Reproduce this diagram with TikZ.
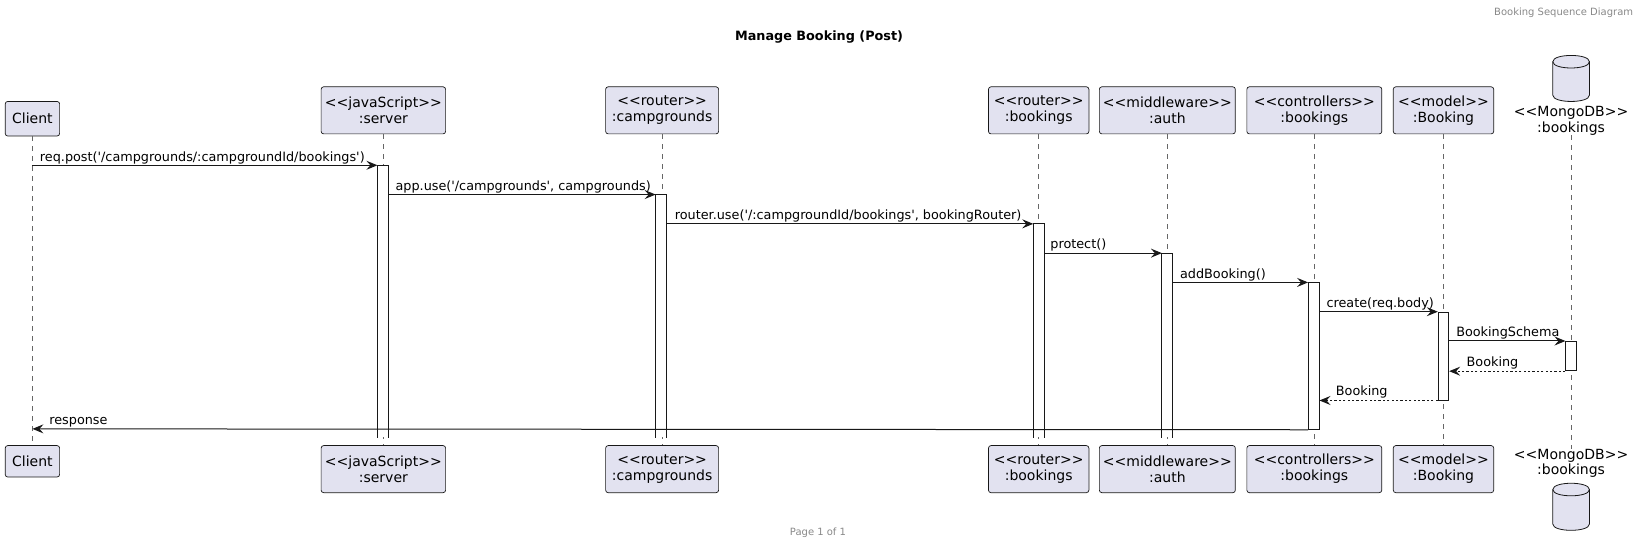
\documentclass[tikz,border=0pt]{standalone}
\usepackage{fontspec}
\setmainfont{DejaVu Sans}[Ligatures=TeXOff]
\usetikzlibrary{arrows.meta}
\definecolor{partfill}{HTML}{E2E2F0}
\definecolor{ink}{HTML}{181818}
\definecolor{lifegray}{HTML}{666666}
\definecolor{notegray}{HTML}{888888}
\newcommand\dbicon[3]{% centre x, top y, bottom y
  \filldraw[dbstyle] (#1-17.5,#2+6) .. controls (#1-17.5,#2-2) and (#1+17.5,#2-2) .. (#1+17.5,#2+6)
    -- (#1+17.5,#3-6) .. controls (#1+17.5,#3+2) and (#1-17.5,#3+2) .. (#1-17.5,#3-6) -- cycle;
  \draw[dbstyle] (#1-17.5,#2+6) .. controls (#1-17.5,#2+14) and (#1+17.5,#2+14) .. (#1+17.5,#2+6);
}
\begin{document}
\begin{tikzpicture}[x=1.046pt,y=-1.046pt,
  part/.style={draw=ink, fill=partfill, rounded corners=2.5pt, line width=0.7pt, align=center,
    font=\fontsize{14}{16}\selectfont, inner sep=0pt, minimum height=45*1.046},
  wd/.style={minimum width=#1*1.046},
  dbl/.style={align=center, font=\fontsize{14}{15.5}\selectfont, inner sep=0pt},
  dbstyle/.style={draw=ink, fill=partfill, line width=0.8pt},
  life/.style={draw=lifegray, line width=0.6pt, dash pattern=on 5pt off 5pt},
  act/.style={fill=white, draw=none, minimum width=10*1.046, inner sep=0pt, anchor=north},
  actc/.style={act, draw=ink, line width=0.9pt},
  msg/.style={draw=ink, line width=1pt, -{Stealth[length=11pt,width=9pt,inset=4pt]}},
  ret/.style={msg, dash pattern=on 2.2pt off 2.2pt},
  mlabel/.style={font=\fontsize{12.8}{14}\selectfont, inner sep=0pt, anchor=base west},
  small/.style={font=\fontsize{10}{12}\selectfont, text=notegray, inner sep=0pt}
]
\useasboundingbox (0,0) rectangle (1566.92,521.03);

% header, title, footer
\node[small, anchor=north east] (hdr) at (1561.5,7.5) {Booking Sequence Diagram};
\node[font=\fontsize{12.8}{14}\selectfont\bfseries, inner sep=0pt] (ttl) at (783,35.5) {Manage Booking (Post)};
\node[small] (ftr) at (782,509.5) {Page 1 of 1};

% participants (top)
\node[part, wd=52, minimum height=33*1.046] (pC) at (31,113.5) {Client};
\node[part, wd=119] (pS) at (366.5,105.5) {<<javaScript>>\\:server};
\node[part, wd=108] (pCG) at (633,105.5) {<<router>>\\:campgrounds};
\node[part, wd=96] (pRB) at (993,105.5) {<<router>>\\:bookings};
\node[part, wd=130] (pAU) at (1116,105.5) {<<middleware>>\\:auth};
\node[part, wd=129] (pCT) at (1256.5,105.5) {<<controllers>>\\:bookings};
\node[part, wd=96] (pM) at (1380,105.5) {<<model>>\\:Booking};
\dbicon{1502}{53}{97}
\node[dbl] (pDB) at (1502,115.5) {<<MongoDB>>\\:bookings};

% participants (bottom)
\node[part, wd=52, minimum height=30*1.046] (qC) at (31,441) {Client};
\node[part, wd=119] (qS) at (366.5,448.5) {<<javaScript>>\\:server};
\node[part, wd=108] (qCG) at (633,448.5) {<<router>>\\:campgrounds};
\node[part, wd=96] (qRB) at (993,448.5) {<<router>>\\:bookings};
\node[part, wd=130] (qAU) at (1116,448.5) {<<middleware>>\\:auth};
\node[part, wd=129] (qCT) at (1256.5,448.5) {<<controllers>>\\:bookings};
\node[part, wd=96] (qM) at (1380,448.5) {<<model>>\\:Booking};
\node[dbl] (qDB) at (1502,443) {<<MongoDB>>\\:bookings};
\dbicon{1502}{462}{507}

% lifelines
\draw[life] (pC.south) -- (qC.north);
\draw[life] (pS.south) -- (qS.north);
\draw[life] (pCG.south) -- (qCG.north);
\draw[life] (pRB.south) -- (qRB.north);
\draw[life] (pAU.south) -- (qAU.north);
\draw[life] (pCT.south) -- (qCT.north);
\draw[life] (pM.south) -- (qM.north);
\draw[life] (pDB.south) -- (qDB.north);

% activations
\node[act, minimum height=260*1.046] (aS) at (366,158) {};
\node[act, minimum height=232*1.046] (aCG) at (632,186) {};
\node[act, minimum height=204*1.046] (aRB) at (993,214) {};
\node[act, minimum height=176*1.046] (aAU) at (1116,242) {};
\foreach \a in {aS,aCG,aRB,aAU}
  \draw[ink, line width=0.9pt] (\a.south west) -- (\a.north west) -- (\a.north east) -- (\a.south east);
\node[actc, minimum height=140*1.046] (aCT) at (1256,270) {};
\node[actc, minimum height=84*1.046] (aM) at (1380,298) {};
\node[actc, minimum height=28*1.046] (aDB) at (1502,326) {};

% messages
\coordinate (m1s) at (31,158);
\draw[msg] (m1s) -- (aS.north west);
\node[mlabel] (l1) at (38,154) {req.post('/campgrounds/:campgroundId/bookings')};

\draw[msg] (aS.east |- aCG.north) -- (aCG.north west);
\node[mlabel] (l2) at (378,182) {app.use('/campgrounds', campgrounds)};

\draw[msg] (aCG.east |- aRB.north) -- (aRB.north west);
\node[mlabel] (l3) at (645,210) {router.use('/:campgroundId/bookings', bookingRouter)};

\draw[msg] (aRB.east |- aAU.north) -- (aAU.north west);
\node[mlabel] (l4) at (1004,238) {protect()};

\draw[msg] (aAU.east |- aCT.north) -- (aCT.north west);
\node[mlabel] (l5) at (1128,266) {addBooking()};

\draw[msg] (aCT.east |- aM.north) -- (aM.north west);
\node[mlabel] (l6) at (1268,294) {create(req.body)};

\draw[msg] (aM.east |- aDB.north) -- (aDB.north west);
\node[mlabel] (l7) at (1392,322) {BookingSchema};

\draw[ret] (aDB.south west) -- (aM.east |- aDB.south);
\node[mlabel] (l8) at (1402,350) {Booking};

\draw[ret] (aM.south west) -- (aCT.east |- aM.south);
\node[mlabel] (l9) at (1277,378) {Booking};

\coordinate (m10e) at (31,410);
\draw[msg] (aCT.south west) -- (m10e);
\node[mlabel] (l10) at (47,406) {response};
\end{tikzpicture}
\end{document}
